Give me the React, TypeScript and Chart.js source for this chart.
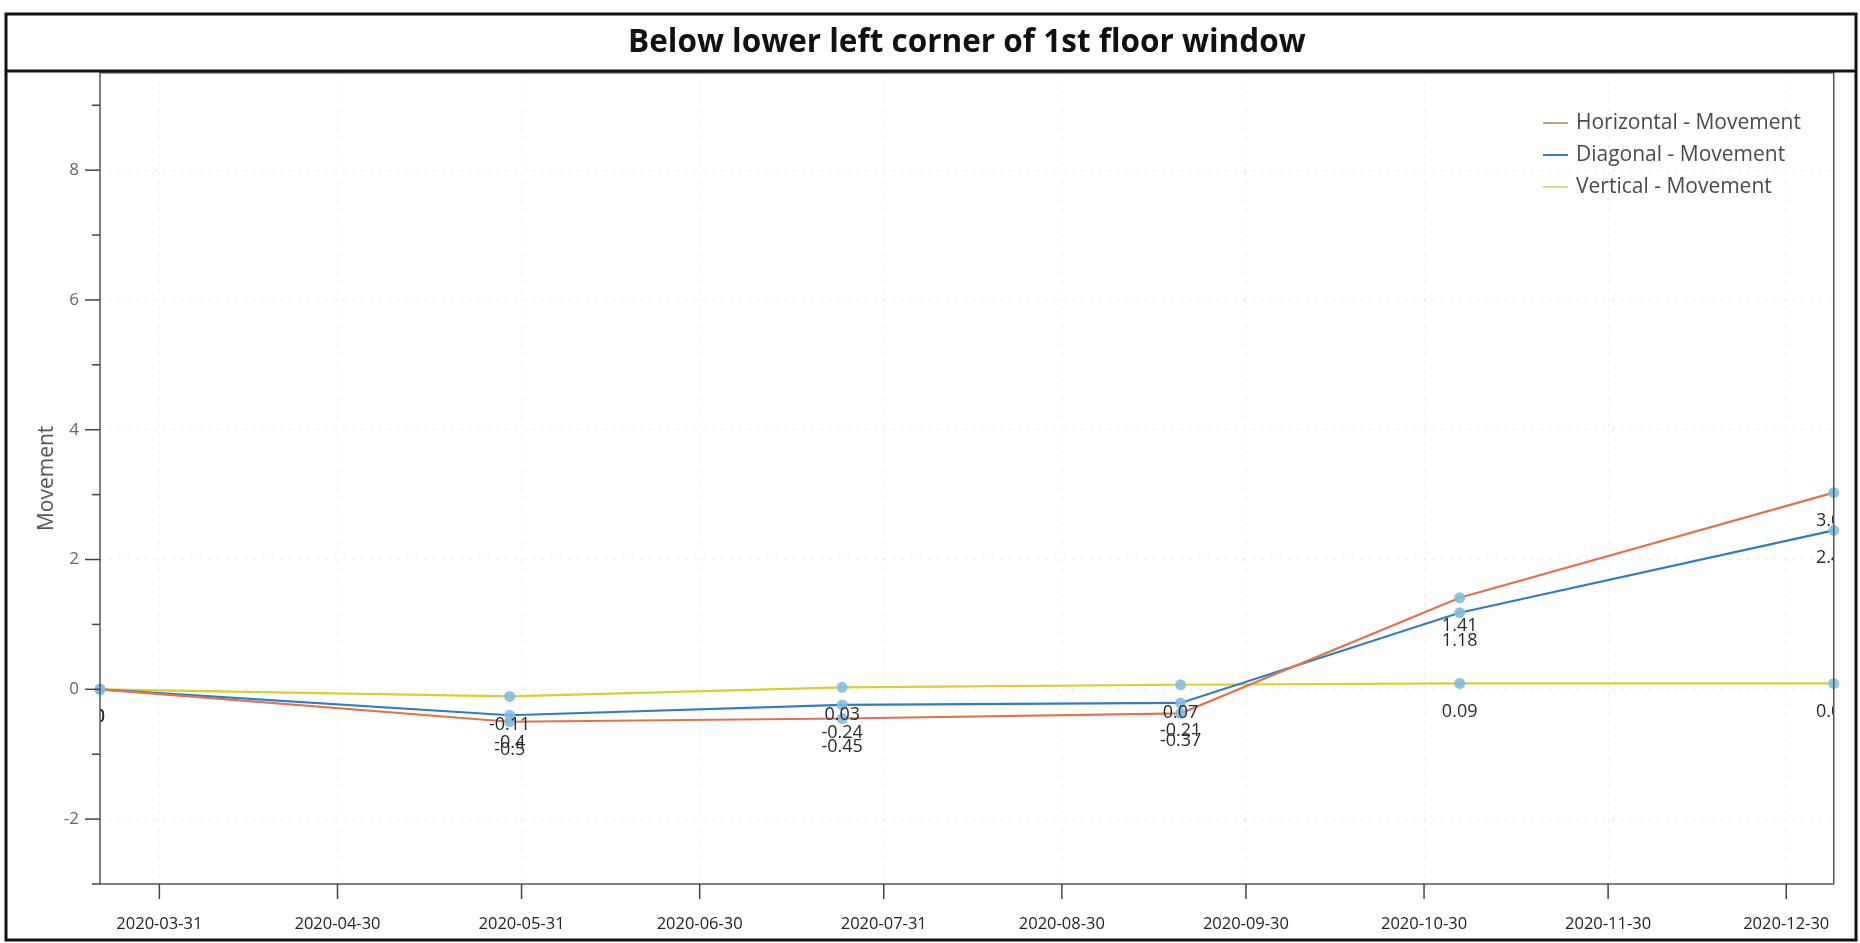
import React, { useEffect, useRef } from "react";
import { Chart, registerables } from "chart.js";

Chart.register(...registerables);

const chartTitle = "Below lower left corner of 1st floor window";
const yAxisTitle = "Movement";
const seriesLabels = ["Horizontal - Movement", "Diagonal - Movement", "Vertical - Movement"];
const measureDates = ["2020-03-21", "2020-05-29", "2020-07-24", "2020-09-19", "2020-11-05", "2021-01-07"];
const horizontalValues = [0, -0.5, -0.45, -0.37, 1.41, 3.03];
const diagonalValues = [0, -0.4, -0.24, -0.21, 1.18, 2.45];
const verticalValues = [0, -0.11, 0.03, 0.07, 0.09, 0.09];
const xTickLabels = [
  "2020-03-31", "2020-04-30", "2020-05-31", "2020-06-30", "2020-07-31",
  "2020-08-30", "2020-09-30", "2020-10-30", "2020-11-30", "2020-12-30",
];
const yTickValues = [-3, -2, -1, 0, 1, 2, 3, 4, 5, 6, 7, 8, 9];
const yMin = -3;
const yMax = 9.5;

const lineColors = ["#e0734f", "#2f7dc0", "#d6d030"];
const legendColors = ["#c9a07c", "#3a7db8", "#e4dc78"];
const pointColor = "rgba(130,188,224,0.9)";
const FONT = "'Open Sans', 'Noto Sans', sans-serif";

const dayOf = (s: string) => {
  const [y, m, d] = s.split("-").map(Number);
  return Date.UTC(y, m - 1, d) / 86400000;
};
const xDays = measureDates.map(dayOf);
const xTickDays = xTickLabels.map(dayOf);

const toPoints = (vals: number[]) => vals.map((v, i) => ({ x: xDays[i], y: v }));

const framePlugin = {
  id: "frame",
  afterDraw(chart: any) {
    const ctx = chart.ctx;
    const a = chart.chartArea;
    ctx.save();
    ctx.strokeStyle = "#555";
    ctx.lineWidth = 1.5;
    ctx.strokeRect(a.left, a.top, a.right - a.left, a.bottom - a.top);
    const xs = chart.scales.x;
    ctx.strokeStyle = "#444";
    ctx.lineWidth = 1.5;
    xTickDays.forEach((d) => {
      const px = xs.getPixelForValue(d);
      ctx.beginPath();
      ctx.moveTo(px, a.bottom);
      ctx.lineTo(px, a.bottom + 15);
      ctx.stroke();
    });
    const ys = chart.scales.y;
    yTickValues.forEach((v) => {
      const py = ys.getPixelForValue(v);
      const len = v % 2 === 0 ? 15 : 8;
      ctx.beginPath();
      ctx.moveTo(a.left - len, py);
      ctx.lineTo(a.left, py);
      ctx.stroke();
    });
    ctx.strokeStyle = "#111";
    ctx.lineWidth = 3;
    ctx.strokeRect(6, 14, 1850, 926);
    ctx.beginPath();
    ctx.moveTo(6, 71);
    ctx.lineTo(1856, 71);
    ctx.stroke();
    ctx.font = `21px ${FONT}`;
    ctx.textBaseline = "middle";
    ctx.textAlign = "left";
    chart.data.datasets.forEach((ds: any, i: number) => {
      const y = 123 + i * 32;
      ctx.strokeStyle = legendColors[i];
      ctx.lineWidth = 2;
      ctx.beginPath();
      ctx.moveTo(1543, y);
      ctx.lineTo(1568, y);
      ctx.stroke();
      ctx.fillStyle = "#4a4a4a";
      ctx.fillText(ds.label, 1576, y);
    });
    ctx.restore();
  },
};

const labelPlugin = {
  id: "valueLabels",
  afterDatasetsDraw(chart: any) {
    const ctx = chart.ctx;
    const a = chart.chartArea;
    ctx.save();
    ctx.beginPath();
    ctx.rect(a.left, a.top, a.right - a.left, a.bottom - a.top);
    ctx.clip();
    ctx.font = `18px ${FONT}`;
    ctx.fillStyle = "#2a2a2a";
    ctx.textAlign = "center";
    ctx.textBaseline = "middle";
    chart.data.datasets.forEach((ds: any, i: number) => {
      const meta = chart.getDatasetMeta(i);
      meta.data.forEach((pt: any, j: number) => {
        ctx.fillText(String(ds.data[j].y), pt.x, pt.y + 28);
      });
    });
    ctx.restore();
  },
};

export default function App() {
  const ref = useRef<HTMLCanvasElement | null>(null);
  useEffect(() => {
    if (!ref.current) return;
    const seriesValues = [horizontalValues, diagonalValues, verticalValues];
    const chart = new Chart(ref.current, {
      type: "line",
      data: {
        datasets: seriesValues.map((vals, i) => ({
          label: seriesLabels[i],
          data: toPoints(vals),
          borderColor: lineColors[i],
          backgroundColor: lineColors[i],
          borderWidth: 2.2,
          tension: 0,
          pointRadius: 5.5,
          pointBackgroundColor: pointColor,
          pointBorderWidth: 0,
          clip: false as any,
        })),
      },
      options: {
        animation: false,
        responsive: false,
        devicePixelRatio: 1,
        layout: { padding: { left: 0, right: 26, top: 14, bottom: 0 } },
        plugins: {
          legend: { display: false },
          tooltip: { enabled: false },
          title: {
            display: true,
            text: chartTitle,
            fullSize: false,
            color: "#111",
            font: { family: FONT, size: 31.5, weight: "bold" },
            padding: { top: 10, bottom: 11 },
          },
        },
        scales: {
          x: {
            type: "linear",
            min: xDays[0],
            max: xDays[xDays.length - 1],
            afterBuildTicks: (scale: any) => {
              scale.ticks = xTickDays.map((v) => ({ value: v }));
            },
            afterFit: (scale: any) => {
              scale.height = 59;
            },
            ticks: {
              autoSkip: false,
              maxRotation: 0,
              padding: 30,
              color: "#222",
              font: { family: FONT, size: 16.5 },
              callback: (value: any) => {
                const i = xTickDays.indexOf(Number(value));
                return i >= 0 ? xTickLabels[i] : "";
              },
            },
            grid: { drawTicks: false, color: "rgba(0,0,0,0.07)", lineWidth: 1 },
            border: { display: false, dash: [3, 6] },
          },
          y: {
            type: "linear",
            min: yMin,
            max: yMax,
            afterBuildTicks: (scale: any) => {
              scale.ticks = yTickValues.map((v) => ({ value: v }));
            },
            afterFit: (scale: any) => {
              scale.width = 100;
            },
            ticks: {
              autoSkip: false,
              padding: 21,
              color: "#666",
              font: { family: FONT, size: 17 },
              callback: (value: any) => (Number(value) % 2 === 0 ? String(value) : ""),
            },
            grid: {
              drawTicks: false,
              lineWidth: 1,
              color: (ctx: any) =>
                ctx.tick && ctx.tick.value % 2 === 0 ? "rgba(0,0,0,0.08)" : "rgba(0,0,0,0)",
            },
            border: { display: false, dash: [3, 6] },
            title: {
              display: true,
              text: yAxisTitle,
              color: "#555",
              font: { family: FONT, size: 21 },
              padding: { top: 34, bottom: 0 },
            },
          },
        },
      },
      plugins: [labelPlugin, framePlugin],
    });
    return () => chart.destroy();
  }, []);
  return (
    <div style={{ position: "fixed", left: 0, top: 0, width: 1860, height: 943, background: "#fff" }}>
      <canvas ref={ref} width={1860} height={943} style={{ width: 1860, height: 943, display: "block" }} />
    </div>
  );
}
